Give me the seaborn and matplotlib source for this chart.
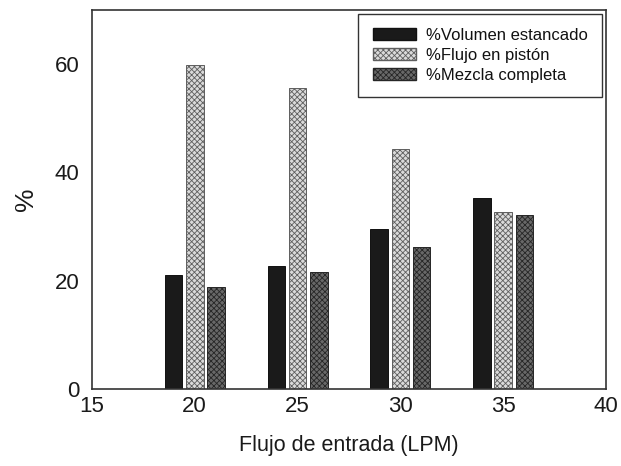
import matplotlib
matplotlib.use("Agg")
import matplotlib.pyplot as plt
import seaborn as sns
import pandas as pd

# Flow rates (LPM) and the percentage of each flow regime
flujo = [20, 25, 30, 35]
volumen_estancado = [21.1, 22.8, 29.5, 35.3]
flujo_piston = [59.8, 55.5, 44.3, 32.7]
mezcla_completa = [18.9, 21.7, 26.2, 32.1]
series = ["%Volumen estancado", "%Flujo en pistón", "%Mezcla completa"]

df = pd.DataFrame({
    "flujo": flujo * 3,
    "serie": [series[0]] * 4 + [series[1]] * 4 + [series[2]] * 4,
    "valor": volumen_estancado + flujo_piston + mezcla_completa,
})

sns.set_theme(style="white")
plt.rcParams["font.family"] = ["Liberation Sans", "DejaVu Sans"]
plt.rcParams["hatch.linewidth"] = 0.6

fig = plt.figure(figsize=(6.21, 4.66), dpi=100)
ax = fig.add_axes([0.148, 0.165, 0.828, 0.814])

sns.barplot(data=df, x="flujo", y="valor", hue="serie", hue_order=series,
            native_scale=True, width=0.62, gap=0.17, ax=ax, errorbar=None,
            palette=["#1c1c1c", "#d4d4d4", "#5a5a5a"])

styles = [
    dict(facecolor="#1a1a1a", edgecolor="#111111", hatch=None),
    dict(facecolor="#dadada", edgecolor="#5e5e5e", hatch="xxxxxx"),
    dict(facecolor="#686868", edgecolor="#262626", hatch="xxxxxx"),
]
for cont, st in zip(ax.containers, styles):
    for bar in cont:
        bar.set_facecolor(st["facecolor"])
        bar.set_edgecolor(st["edgecolor"])
        bar.set_linewidth(0.7)
        if st["hatch"]:
            bar.set_hatch(st["hatch"])

ax.set_xlim(15, 40)
ax.set_ylim(0, 70)
ax.set_xticks([15, 20, 25, 30, 35, 40])
ax.set_yticks([0, 20, 40, 60])
ax.tick_params(axis="both", direction="in", length=4, width=1, color="#333333",
               labelsize=16, labelcolor="#1a1a1a")
ax.tick_params(axis="y", pad=9)
ax.tick_params(axis="x", pad=5)
for sp in ax.spines.values():
    sp.set_visible(True)
    sp.set_color("#333333")
    sp.set_linewidth(1.2)

ax.set_xlabel("Flujo de entrada (LPM)", fontsize=15.5, color="#1a1a1a", labelpad=13)
ax.set_ylabel("%", fontsize=19, color="#1a1a1a", labelpad=12)

handles, labels = ax.get_legend_handles_labels()
for h, st in zip(handles, styles):
    h.set_facecolor(st["facecolor"])
    h.set_edgecolor(st["edgecolor"])
    if st["hatch"]:
        h.set_hatch(st["hatch"])
leg = ax.legend(handles, labels, loc="upper right", fontsize=12, frameon=True,
                fancybox=False, edgecolor="#333333", handlelength=2.6,
                handleheight=0.75, handletextpad=0.6, labelspacing=0.3,
                borderpad=0.85, borderaxespad=0.25, framealpha=1)
leg.get_frame().set_linewidth(1.0)
for t in leg.get_texts():
    t.set_color("#111111")

fig.savefig("out.png", dpi=100)
